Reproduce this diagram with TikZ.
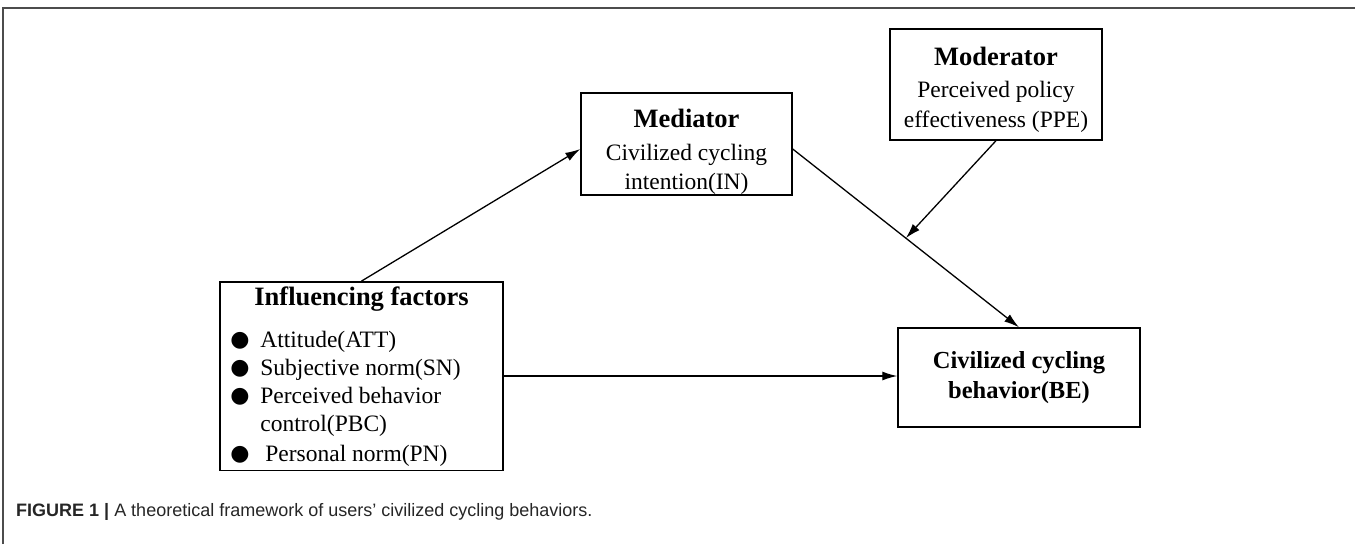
\documentclass[tikz,border=0pt]{standalone}
\usepackage{fontspec}
\setmainfont{Liberation Serif}
\newfontfamily\capfont{Liberation Sans}
\newfontfamily\symfont{DejaVu Sans}
\usetikzlibrary{arrows.meta,calc}

\newcommand{\headfont}{\bfseries\fontsize{26.5}{30}\selectfont}
\newcommand{\itemdot}{\makebox[30pt][l]{\raisebox{1.5pt}{\symfont\fontsize{22}{22}\selectfont ●}}}

\tikzset{
  box/.style={draw, line width=1.4pt, align=center, inner sep=4pt,
    font=\fontsize{23.5}{29.5}\selectfont},
  link/.style={->, line width=1.3pt}
}

\begin{document}
\begin{tikzpicture}[x=1pt, y=-1pt, >={Latex[length=15pt,width=9pt]}]

        \useasboundingbox (0,0) rectangle (1355,544);
        \draw[black!70, line width=2pt] (3,544) -- (3,8) -- (1355,8);

        \node[box, inner ysep=0pt, minimum width=283, minimum height=188] at (361.5,376) (factors) {%
          \fontsize{23.5}{28}\selectfont
          \begin{tabular}{@{}l@{}l@{}}
            \multicolumn{2}{c}{\rule{0pt}{24pt}\hspace{18pt}\headfont Influencing factors}\\[14pt]
            \itemdot & Attitude(ATT)\\
            \itemdot & Subjective norm(SN)\\
            \itemdot & Perceived behavior\\
                     & control(PBC)\\[2pt]
            \itemdot & \hspace{5pt}Personal norm(PN)
          \end{tabular}\hspace{18pt}};
        \node[box, inner ysep=0pt, minimum width=211, minimum height=102] at (686.5,144) (mediator)
          {\rule{0pt}{34pt}{\headfont Mediator}\\[3pt] Civilized cycling\\ intention(IN)};
        \node[box, minimum width=212, minimum height=111] at (996,84.5) (moderator)
          {\rule{0pt}{28pt}{\headfont Moderator}\\[3pt] Perceived policy\\ effectiveness (PPE)};
        \node[box, minimum width=242, minimum height=99, font=\bfseries\fontsize{24.5}{29.5}\selectfont]
          at (1019,377.5) (behavior) {Civilized cycling\\ behavior(BE)};

        \node[anchor=base west, text=black!85, inner sep=0pt,
          font=\capfont\fontsize{18}{18}\selectfont] at (16,516) (caption)
          {\textbf{FIGURE 1 |} A theoretical framework of users’ civilized cycling behaviors.};

        \coordinate (medout) at ([yshift=-5pt]mediator.east);
        \coordinate (join) at ($(medout)!0.5!(behavior.north)$);

        \draw[link] (factors.north) -- ([yshift=-5pt]mediator.west);
        \draw[link] (medout) -- (behavior.north);
        \draw[link] (moderator.south) -- (join);
        \draw[link] (factors.east) -- (factors.east -| behavior.west);

    \end{tikzpicture}
\end{document}
